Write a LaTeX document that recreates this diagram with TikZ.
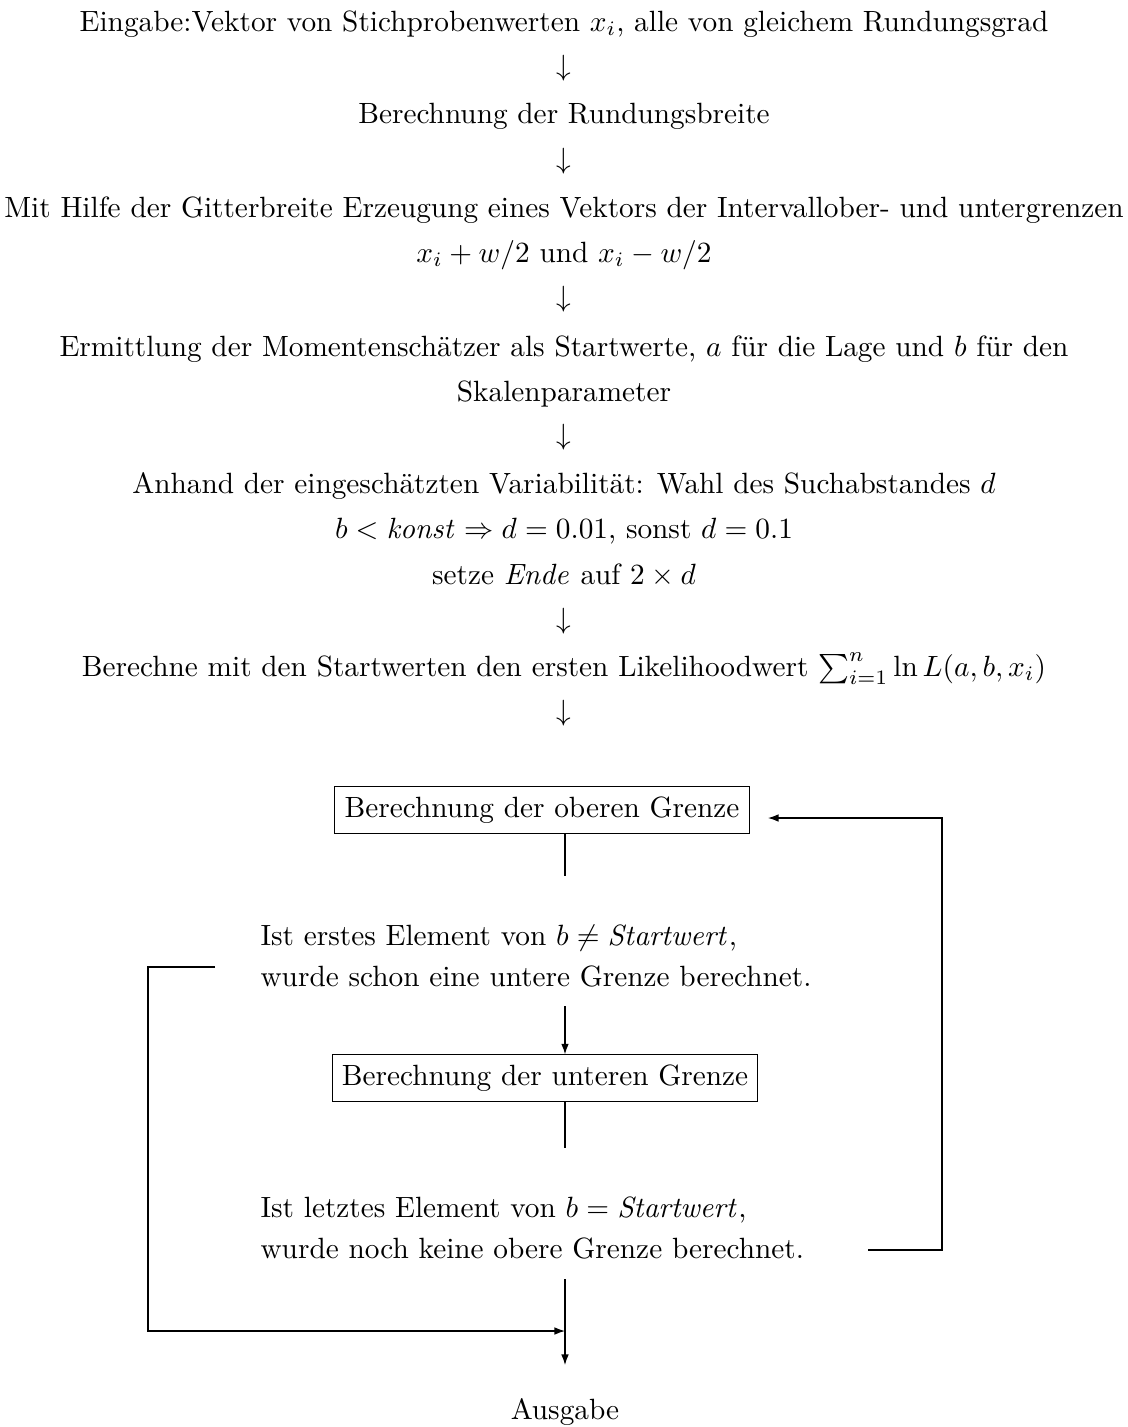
\documentclass[tikz,border=0pt]{standalone}
\usepackage{amsmath,amssymb}
\usetikzlibrary{arrows.meta}
\begin{document}
\begin{tikzpicture}[x=0.3413pt,y=-0.3413pt,
  line/.style={line width=0.4pt},
  arr/.style={line width=0.4pt,-{Latex[length=3.6pt,width=2.6pt]}},
  txt/.style={inner sep=0pt,anchor=base},
  dn/.style={inner sep=0pt},
  boxnode/.style={draw,line width=0.4pt,inner sep=3.33pt},
  blk/.style={inner sep=0pt,align=left,anchor=north west}]
\useasboundingbox (0,0) rectangle (1128,1427);
% top sequence
\node[txt] (l1) at (564,31) {Eingabe:Vektor von Stichprobenwerten $x_i$, alle von gleichem Rundungsgrad};
\node[dn] (a1) at (564,68) {$\downarrow$};
\node[txt] (l2) at (564,123) {Berechnung der Rundungsbreite};
\node[dn] (a2) at (564,161) {$\downarrow$};
\node[txt] (l3) at (564,217) {Mit Hilfe der Gitterbreite Erzeugung eines Vektors der Intervallober- und untergrenzen};
\node[txt] (l4) at (564,262) {$x_i+w/2$ und $x_i-w/2$};
\node[dn] (a3) at (564,299) {$\downarrow$};
\node[txt] (l5) at (564,356) {Ermittlung der Momentenschätzer als Startwerte, $a$ für die Lage und $b$ für den};
\node[txt] (l6) at (564,401) {Skalenparameter};
\node[dn] (a4) at (564,437) {$\downarrow$};
\node[txt] (l7) at (564,493) {Anhand der eingeschätzten Variabilität: Wahl des Suchabstandes $d$};
\node[txt] (l8) at (564,538) {$b<\mathit{konst}\Rightarrow d=0.01$, sonst $d=0.1$};
\node[txt] (l9) at (564,584) {setze $\mathit{Ende}$ auf $2\times d$};
\node[dn] (a5) at (564,621) {$\downarrow$};
\node[txt] (l10) at (564,676) {Berechne mit den Startwerten den ersten Likelihoodwert $\sum_{i=1}^{n}\ln L(a,b,x_i)$};
\node[dn] (a6) at (564,713) {$\downarrow$};
% loop part
\node[boxnode] (ob) at (542,810) {Berechnung der oberen Grenze};
\node[blk] (t1) at (260,925) {Ist erstes Element von $b\neq \mathit{Startwert}$,\\[2pt]wurde schon eine untere Grenze berechnet.};
\node[boxnode] (ub) at (545,1078) {Berechnung der unteren Grenze};
\node[blk] (t2) at (260,1197) {Ist letztes Element von $b=\mathit{Startwert}$,\\[2pt]wurde noch keine obere Grenze berechnet.};
\node[txt] (out) at (565,1419) {Ausgabe};
% coordinates
\coordinate (c1) at (565,876);
\coordinate (c2) at (565,1006);
\coordinate (c3) at (565,1148);
\coordinate (c4) at (565,1279);
\coordinate (c5) at (565,1365);
\coordinate (j) at (565,1331);
\coordinate (l0) at (215,967);
\coordinate (lc) at (148,967);
\coordinate (r0) at (868,1250);
\coordinate (rc) at (942,1250);
\coordinate (re) at (768,818);
% connectors
\draw[line] (ob.south -| c1) -- (c1);
\draw[arr] (c2) -- (ub.north -| c2);
\draw[line] (ub.south -| c3) -- (c3);
\draw[arr] (c4) -- (c5);
\draw[arr] (l0) -- (lc) |- (j);
\draw[arr] (r0) -- (rc) |- (re);
\end{tikzpicture}
\end{document}
